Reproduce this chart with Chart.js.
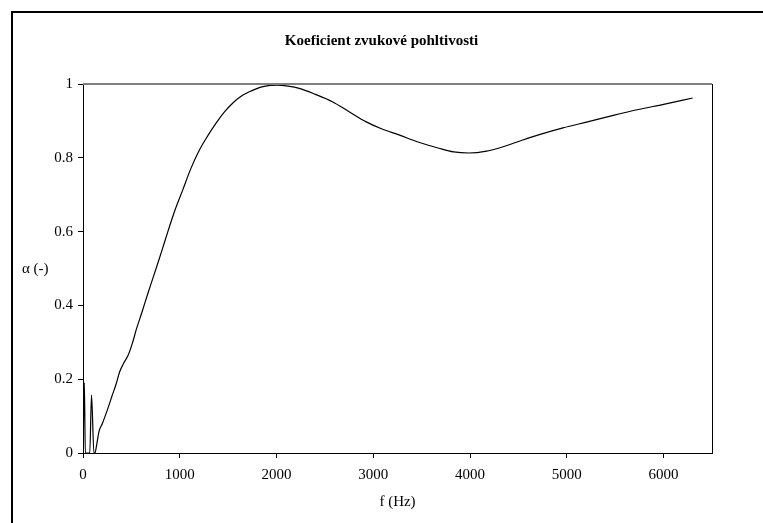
<!DOCTYPE html>
<html>
<head>
<meta charset="utf-8">
<script src="https://cdn.jsdelivr.net/npm/chart.js@4/dist/chart.umd.min.js"></script>
<style>
  html, body { margin: 0; padding: 0; background: #fff; }
  canvas { display: block; }
</style>
</head>
<body>
<canvas id="absChart" width="763" height="523"></canvas>
<script>
// frequency (Hz) and absorption coefficient
const freq = [0, 14, 24, 70, 88, 113, 124, 138, 165, 200, 252, 303, 340, 379, 420, 465, 510, 551, 610, 671, 720, 774, 830, 877, 950, 1031, 1110, 1203, 1290, 1375, 1460, 1546, 1630, 1718, 1860, 2010, 2120, 2234, 2400, 2577, 2750, 2922, 3090, 3265, 3470, 3677, 3830, 3987, 4170, 4365, 4530, 4708, 4960, 5224, 5480, 5739, 6000, 6300]
const alpha = [0, 0.19, 0, 0, 0.157, 0, 0, 0.017, 0.058, 0.08, 0.117, 0.157, 0.185, 0.22, 0.243, 0.264, 0.297, 0.335, 0.382, 0.433, 0.472, 0.515, 0.561, 0.6, 0.658, 0.713, 0.768, 0.821, 0.86, 0.894, 0.924, 0.948, 0.966, 0.979, 0.993, 0.997, 0.994, 0.988, 0.972, 0.952, 0.925, 0.898, 0.878, 0.862, 0.842, 0.826, 0.816, 0.813, 0.818, 0.832, 0.847, 0.862, 0.881, 0.898, 0.915, 0.931, 0.945, 0.962]
const xTicks = [0, 1000, 2000, 3000, 4000, 5000, 6000]
const yTicks = [0, 0.2, 0.4, 0.6, 0.8, 1]

const chartTitle = "Koeficient zvukové pohltivosti"
const xLabel = "f (Hz)"
const yLabel = "α (-)"

const serif = "'Liberation Serif', 'Times New Roman', serif"

const framePlugin = {
    id: "frame",
    beforeDraw(chart) {
        const ctx = chart.ctx
        ctx.save()
        ctx.fillStyle = "#fff"
        ctx.fillRect(0, 0, chart.width, chart.height)
        ctx.strokeStyle = "#000"
        ctx.lineWidth = 2
        ctx.beginPath()
        ctx.moveTo(12, chart.height)
        ctx.lineTo(12, 12)
        ctx.lineTo(chart.width, 12)
        ctx.stroke()
        ctx.restore()
    },
    afterDraw(chart) {
        const ctx = chart.ctx
        const a = chart.chartArea
        ctx.save()
        ctx.strokeStyle = "#808080"
        ctx.lineWidth = 2
        ctx.beginPath()
        ctx.moveTo(a.left, a.top)
        ctx.lineTo(a.right, a.top)
        ctx.stroke()
        ctx.strokeStyle = "#000"
        ctx.lineWidth = 1
        ctx.beginPath()
        ctx.moveTo(a.right + 0.5, a.top)
        ctx.lineTo(a.right + 0.5, a.bottom)
        ctx.stroke()
        ctx.fillStyle = "#000"
        ctx.font = "15px " + serif
        ctx.textAlign = "left"
        ctx.textBaseline = "middle"
        ctx.fillText(yLabel, 22, (a.top + a.bottom) / 2 + 1)
        ctx.restore()
    }
}

new Chart(document.getElementById("absChart"), {
    type: "line",
    data: {
        datasets: [
            {
                data: freq.map((f, i) => ({ x: f, y: alpha[i] })),
                borderColor: "#000",
                borderWidth: 1.2,
                pointRadius: 0,
                cubicInterpolationMode: "monotone",
                fill: false
            }
        ]
    },
    options: {
        responsive: false,
        animation: false,
        layout: { padding: 0 },
        plugins: {
            legend: { display: false },
            tooltip: { enabled: false },
            title: {
                display: true,
                text: chartTitle,
                color: "#000",
                font: { family: serif, size: 15, weight: "bold" },
                padding: { top: 32, bottom: 34 }
            }
        },
        scales: {
            x: {
                type: "linear",
                min: 0,
                max: 6500,
                afterFit: s => { s.height = 70 },
                afterBuildTicks: s => { s.ticks = xTicks.map(v => ({ value: v })) },
                grid: { display: true, drawOnChartArea: false, color: "#000", tickLength: 5 },
                border: { color: "#000", width: 1 },
                ticks: { color: "#000", font: { family: serif, size: 15 }, padding: 8, maxRotation: 0, callback: v => String(v) },
                title: { display: true, text: xLabel, color: "#000", font: { family: serif, size: 15 }, padding: { top: 0, bottom: 12 } }
            },
            y: {
                min: 0,
                max: 1,
                afterFit: s => { s.width = 83 },
                afterBuildTicks: s => { s.ticks = yTicks.map(v => ({ value: v })) },
                grid: { display: true, drawOnChartArea: false, color: "#000", tickLength: 5 },
                border: { color: "#000", width: 1 },
                ticks: { color: "#000", font: { family: serif, size: 15 }, padding: 5, callback: v => String(v) }
            },
            // empty right-hand margin so the title stays centred on the whole page
            yRight: {
                position: "right",
                min: 0,
                max: 1,
                afterFit: s => { s.width = 51 },
                grid: { display: false },
                border: { display: false },
                ticks: { display: false }
            }
        }
    },
    plugins: [framePlugin]
})
</script>
</body>
</html>
